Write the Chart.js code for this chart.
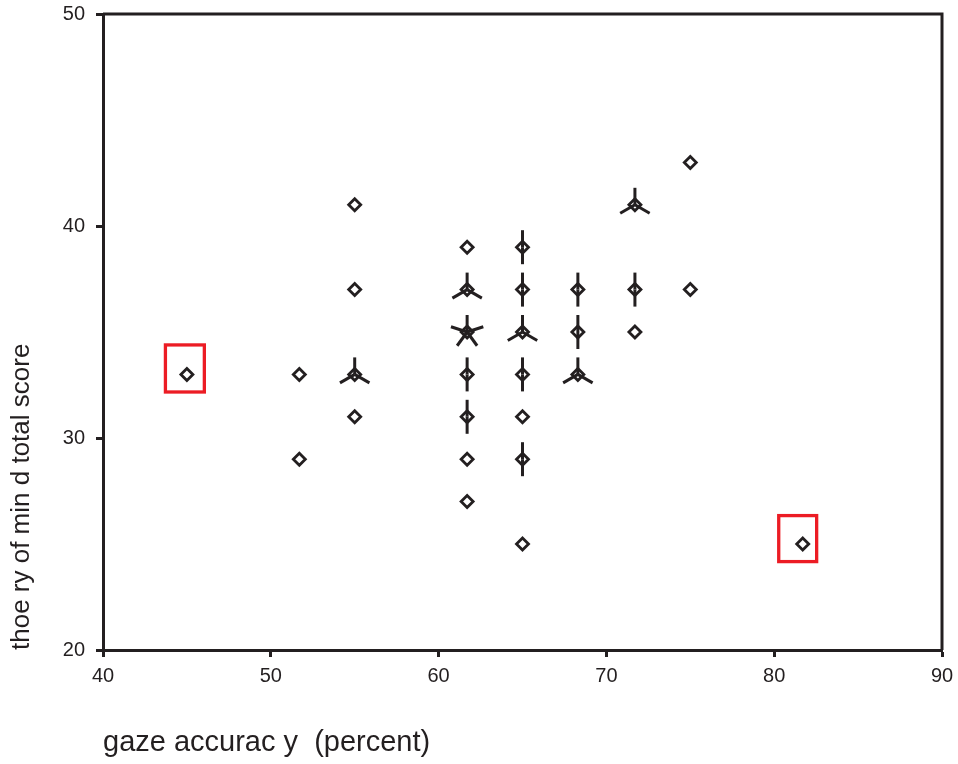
<!DOCTYPE html>
<html>
<head>
<meta charset="utf-8">
<script src="https://cdn.jsdelivr.net/npm/chart.js@4"></script>
<style>
  html, body { margin: 0; padding: 0; background: #ffffff; }
  #wrap { width: 958px; height: 764px; }
</style>
</head>
<body>
<div id="wrap"><canvas id="c" width="958" height="764"></canvas></div>
<script>
// ---- data (sunflower plot: each unique point with its count) ----
const gazeAccuracy = [45, 51.7, 51.7, 55, 55, 55, 55,
  61.7, 61.7, 61.7, 61.7, 61.7, 61.7, 61.7,
  65, 65, 65, 65, 65, 65, 65,
  68.3, 68.3, 68.3,
  71.7, 71.7, 71.7,
  75, 75,
  81.7];
const tomScore = [33, 33, 29, 41, 37, 33, 31,
  39, 37, 35, 33, 31, 29, 27,
  39, 37, 35, 33, 31, 29, 25,
  37, 35, 33,
  41, 37, 35,
  43, 37,
  25];
const pointCount = [1, 1, 1, 1, 1, 3, 1,
  1, 3, 5, 2, 2, 1, 1,
  2, 2, 3, 2, 1, 2, 1,
  2, 2, 3,
  3, 2, 1,
  1, 1,
  1];
// highlighted outliers (boxes in data units)
const boxXMin = [43.72, 80.27];
const boxXMax = [46.04, 82.53];
const boxYMin = [32.17, 24.17];
const boxYMax = [34.39, 26.34];

const xTickValues = [40, 50, 60, 70, 80, 90];
const yTickValues = [20, 30, 40, 50];
const xTitle = 'gaze accurac y  (percent)';
const yTitle = 'thoe ry of min d total score';

const INK = '#231f20';
const RED = '#ec1c24';
const FONT = 'Liberation Sans, Arial, Helvetica, sans-serif';

const points = gazeAccuracy.map((x, i) => ({ x: x, y: tomScore[i], n: pointCount[i] }));

const sunflowerPlugin = {
  id: 'sunflower',
  afterDatasetsDraw(chart) {
    const ctx = chart.ctx;
    const xs = chart.scales.x, ys = chart.scales.y;
    ctx.save();
    ctx.strokeStyle = INK;
    ctx.lineWidth = 3;
    ctx.lineCap = 'butt';
    const L = 17;
    points.forEach(p => {
      if (p.n < 2) return;
      const cx = xs.getPixelForValue(p.x);
      const cy = ys.getPixelForValue(p.y);
      for (let k = 0; k < p.n; k++) {
        const a = Math.PI / 2 + k * 2 * Math.PI / p.n;
        ctx.beginPath();
        ctx.moveTo(cx, cy);
        ctx.lineTo(cx + L * Math.cos(a), cy - L * Math.sin(a));
        ctx.stroke();
      }
    });
    // red boxes
    ctx.strokeStyle = RED;
    ctx.lineWidth = 3.3;
    for (let i = 0; i < boxXMin.length; i++) {
      const x0 = xs.getPixelForValue(boxXMin[i]);
      const x1 = xs.getPixelForValue(boxXMax[i]);
      const y0 = ys.getPixelForValue(boxYMax[i]);
      const y1 = ys.getPixelForValue(boxYMin[i]);
      ctx.strokeRect(x0, y0, x1 - x0, y1 - y0);
    }
    // top and right frame
    const ca = chart.chartArea;
    ctx.strokeStyle = INK;
    ctx.lineWidth = 3;
    ctx.beginPath();
    ctx.moveTo(ca.left, ca.top);
    ctx.lineTo(ca.right, ca.top);
    ctx.lineTo(ca.right, ca.bottom);
    ctx.stroke();
    ctx.restore();
  }
};

new Chart(document.getElementById('c'), {
  type: 'scatter',
  data: {
    datasets: [{
      data: points,
      pointStyle: 'rectRot',
      pointRadius: 6,
      pointHoverRadius: 6,
      pointBorderWidth: 2.8,
      borderColor: INK,
      backgroundColor: 'rgba(0,0,0,0)'
    }]
  },
  options: {
    responsive: false,
    animation: false,
    events: [],
    layout: { padding: { top: 14, right: 16, left: 0, bottom: 0 } },
    plugins: { legend: { display: false }, tooltip: { enabled: false } },
    scales: {
      x: {
        type: 'linear',
        min: 40, max: 90,
        afterBuildTicks(scale) { scale.ticks = xTickValues.map(v => ({ value: v })); },
        afterFit(scale) { scale.height = 114; scale.paddingLeft = 0; scale.paddingRight = 0; },
        ticks: { color: INK, font: { family: FONT, size: 20 }, padding: 7, maxRotation: 0 },
        grid: { drawOnChartArea: false, drawTicks: true, tickLength: 7, tickWidth: 3, tickColor: INK },
        border: { display: true, color: INK, width: 3 },
        title: { display: true, text: xTitle, align: 'start', color: INK,
                 font: { family: FONT, size: 29 }, padding: { top: 0, bottom: 4 } }
      },
      y: {
        type: 'linear',
        min: 20, max: 50,
        afterBuildTicks(scale) { scale.ticks = yTickValues.map(v => ({ value: v })); },
        afterFit(scale) { scale.width = 103; scale.paddingTop = 0; scale.paddingBottom = 0; },
        ticks: { color: INK, font: { family: FONT, size: 20 }, padding: 11 },
        grid: { drawOnChartArea: false, drawTicks: true, tickLength: 7, tickWidth: 3, tickColor: INK },
        border: { display: true, color: INK, width: 3 },
        title: { display: true, text: yTitle, align: 'start', color: INK,
                 font: { family: FONT, size: 26 }, padding: { top: 6, bottom: 0 } }
      }
    }
  },
  plugins: [sunflowerPlugin]
});
</script>
</body>
</html>
